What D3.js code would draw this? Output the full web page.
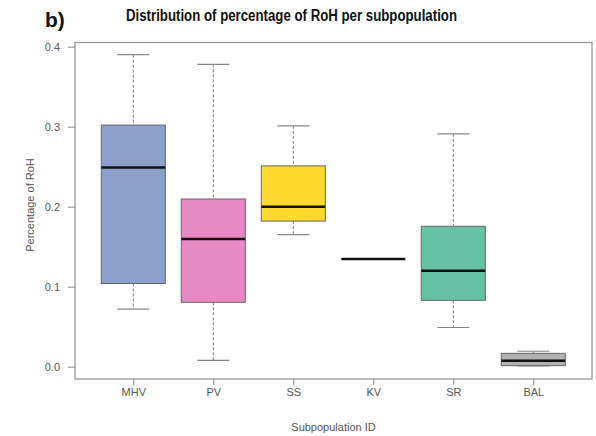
<!DOCTYPE html>
<html>
<head>
<meta charset="utf-8">
<script src="https://cdn.jsdelivr.net/npm/d3@7"></script>
<style>
  body { margin: 0; background: #fff; }
  svg text { font-family: "Liberation Sans", Arial, sans-serif; }
</style>
</head>
<body>
<svg width="596" height="436"></svg>
<script>
// subpopulations and five-number summaries
var groups = ["MHV", "PV", "SS", "KV", "SR", "BAL"]
var lowWhisker = [0.072, 0.008, 0.165, 0.1346, 0.049, 0.001]
var q1 = [0.104, 0.0805, 0.182, 0.1346, 0.083, 0.0013]
var median = [0.249, 0.1596, 0.2, 0.1346, 0.12, 0.0075]
var q3 = [0.302, 0.2096, 0.251, 0.1346, 0.1755, 0.0167]
var highWhisker = [0.39, 0.378, 0.301, 0.1346, 0.291, 0.0193]
var colors = ["#8da0cb", "#e78ac3", "#ffd92f", "#a6d854", "#66c2a5", "#b3b3b3"]
var yTicks = [0, 0.1, 0.2, 0.3, 0.4]

var svg = d3.select("svg")
var frame = {left: 75, right: 592, top: 42.5, bottom: 379}

var x = d3.scalePoint()
  .domain(groups)
  .range([133.3, 533.3])

var y = d3.scaleLinear()
  .domain([0, 0.4])
  .range([366.7, 46.7])

var boxW = 64
var capW = 32

// title and panel letter
svg.append("text")
  .attr("x", 45).attr("y", 27)
  .attr("font-size", 21).attr("font-weight", "bold")
  .attr("fill", "#111")
  .text("b)")

svg.append("text")
  .attr("x", 126).attr("y", 21)
  .attr("font-size", 16).attr("font-weight", "bold")
  .attr("fill", "#111")
  .attr("textLength", 331).attr("lengthAdjust", "spacingAndGlyphs")
  .text("Distribution of percentage of RoH per subpopulation")

var data = groups.map((g, i) => ({
  name: g, lo: lowWhisker[i], q1: q1[i], med: median[i], q3: q3[i], hi: highWhisker[i], color: colors[i]
}))

var boxes = svg.append("g")
  .selectAll("g")
  .data(data)
  .join("g")

// whiskers
boxes.filter(d => d.hi > d.q3).append("line")
  .attr("x1", d => x(d.name)).attr("x2", d => x(d.name))
  .attr("y1", d => y(d.hi)).attr("y2", d => y(d.q3))
  .attr("stroke", "#777").attr("stroke-dasharray", "3,2")
boxes.filter(d => d.lo < d.q1).append("line")
  .attr("x1", d => x(d.name)).attr("x2", d => x(d.name))
  .attr("y1", d => y(d.q1)).attr("y2", d => y(d.lo))
  .attr("stroke", "#777").attr("stroke-dasharray", "3,2")

// caps
boxes.filter(d => d.hi > d.lo).selectAll("line.cap")
  .data(d => [d.hi, d.lo].map(v => ({name: d.name, v: v})))
  .join("line")
  .attr("class", "cap")
  .attr("x1", d => x(d.name) - capW / 2).attr("x2", d => x(d.name) + capW / 2)
  .attr("y1", d => y(d.v)).attr("y2", d => y(d.v))
  .attr("stroke", "#888").attr("stroke-width", 1.2)

// boxes
boxes.filter(d => d.q3 > d.q1).append("rect")
  .attr("x", d => x(d.name) - boxW / 2)
  .attr("y", d => y(d.q3))
  .attr("width", boxW)
  .attr("height", d => y(d.q1) - y(d.q3))
  .attr("fill", d => d.color)
  .attr("stroke", "#666").attr("stroke-width", 1)

// medians
boxes.append("line")
  .attr("x1", d => x(d.name) - boxW / 2).attr("x2", d => x(d.name) + boxW / 2)
  .attr("y1", d => y(d.med)).attr("y2", d => y(d.med))
  .attr("stroke", "#111").attr("stroke-width", 2.6)

// frame
svg.append("rect")
  .attr("x", frame.left).attr("y", frame.top)
  .attr("width", frame.right - frame.left).attr("height", frame.bottom - frame.top)
  .attr("fill", "none").attr("stroke", "#999").attr("stroke-width", 1.3)

// axes
var yAxis = svg.append("g")
  .attr("transform", `translate(${frame.left},0)`)
  .call(d3.axisLeft(y).tickValues(yTicks).tickFormat(d3.format(".1f")).tickSize(7).tickPadding(8))
yAxis.select(".domain").remove()
yAxis.selectAll("line").attr("stroke", "#888")
yAxis.selectAll("text").attr("fill", "#555").attr("font-size", 11).attr("font-family", "Liberation Sans, Arial, sans-serif")

var xAxis = svg.append("g")
  .attr("transform", `translate(0,${frame.bottom})`)
  .call(d3.axisBottom(x).tickSize(6).tickPadding(3))
xAxis.select(".domain").remove()
xAxis.selectAll("line").attr("stroke", "#888")
xAxis.selectAll("text").attr("fill", "#555").attr("font-size", 11).attr("font-family", "Liberation Sans, Arial, sans-serif")

svg.append("text")
  .attr("x", 333.5).attr("y", 431)
  .attr("text-anchor", "middle")
  .attr("font-size", 11).attr("fill", "#555")
  .text("Subpopulation ID")

svg.append("text")
  .attr("transform", "translate(34,205) rotate(-90)")
  .attr("text-anchor", "middle")
  .attr("font-size", 11).attr("fill", "#555")
  .text("Percentage of RoH")
</script>
</body>
</html>
